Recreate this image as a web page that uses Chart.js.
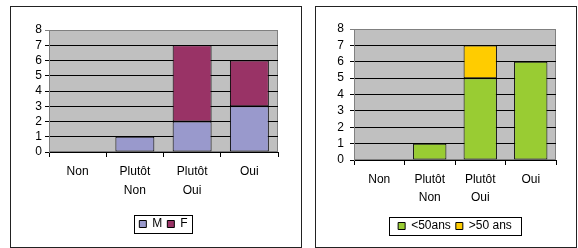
<!DOCTYPE html>
<html><head><meta charset="utf-8">
<script src="https://cdn.jsdelivr.net/npm/chart.js@4"></script>
<style>
body{margin:0;background:#fff;width:578px;height:248px;position:relative;overflow:hidden}
.box{position:absolute;border:1px solid #222;background:#fff}
canvas{display:block}
</style></head><body>
<div class="box" style="left:10px;top:6px;width:290px;height:240px"><canvas id="c1" width="290" height="240"></canvas></div>
<div class="box" style="left:315px;top:6px;width:260px;height:240px"><canvas id="c2" width="260" height="240"></canvas></div>
<script>
const categories = [["Non"], ["Plutôt", "Non"], ["Plutôt", "Oui"], ["Oui"]];
const sexLabels = ["M", "F"];
const valuesM = [0, 1, 2, 3];
const valuesF = [0, 0, 5, 3];
const ageLabels = ["<50ans", ">50 ans"];
const valuesUnder50 = [0, 1, 5, 6];
const valuesOver50 = [0, 0, 2, 0];
const yMin = 0, yMax = 8, yStep = 1;

Chart.defaults.font.family = '"Liberation Sans", Arial, sans-serif';
Chart.defaults.color = '#000';

const framePlugin = {
  id: 'frame',
  beforeDraw(chart) {
    const {ctx, chartArea: a} = chart;
    ctx.save();
    ctx.fillStyle = '#C0C0C0';
    ctx.fillRect(a.left, a.top, a.width, a.height);
    ctx.strokeStyle = '#808080';
    ctx.lineWidth = 1;
    ctx.strokeRect(a.left + 0.5, a.top + 0.5, a.width - 1, a.height - 1);
    ctx.restore();
  },
  afterDraw(chart, args, opts) {
    const hb = chart.legend.legendHitBoxes;
    if (!hb || !hb.length) return;
    let x0 = Infinity, y0 = Infinity, x1 = -Infinity, y1 = -Infinity;
    hb.forEach(h => { x0 = Math.min(x0, h.left); y0 = Math.min(y0, h.top); x1 = Math.max(x1, h.left + h.width); y1 = Math.max(y1, h.top + h.height); });
    const px = opts.padX || 5, py = 3;
    const ctx = chart.ctx;
    ctx.save();
    ctx.strokeStyle = '#000';
    ctx.lineWidth = 1;
    ctx.strokeRect(Math.round(x0 - px) + 0.5, Math.round(y0 - py) + 0.5, Math.round(x1 - x0 + 2 * px), Math.round(y1 - y0 + 2 * py));
    ctx.restore();
  }
};

function makeChart(id, names, dataA, dataB, colA, colB, o) {
  const ds = (label, data, col) => ({
    label, data, backgroundColor: col, borderColor: '#000',
    borderWidth: c => (c.raw === 0 ? 0 : 1), borderSkipped: false,
    barPercentage: o.bar, categoryPercentage: 1
  });
  return new Chart(document.getElementById(id), {
    type: 'bar',
    data: { labels: categories, datasets: [ds(names[0], dataA, colA), ds(names[1], dataB, colB)] },
    options: {
      responsive: false, animation: false, devicePixelRatio: 1,
      layout: { padding: { left: 0, right: o.right, top: o.top, bottom: o.bottom } },
      plugins: {
        frame: { padX: o.legPadX },
        legend: {
          position: 'bottom', fullSize: false,
          labels: {
            boxWidth: 7, boxHeight: 7, color: '#000', font: { size: 12 }, padding: 5,
            generateLabels: chart => Chart.defaults.plugins.legend.labels.generateLabels(chart)
              .map(l => Object.assign(l, { lineWidth: 1, strokeStyle: '#000' }))
          }
        },
        tooltip: { enabled: false }
      },
      scales: {
        x: {
          stacked: true,
          grid: { offset: true, drawOnChartArea: false, drawTicks: true, tickLength: 5, color: '#000' },
          border: { color: '#000' },
          ticks: { color: '#000', font: { size: 12, lineHeight: o.lh }, padding: o.xpad, maxRotation: 0, autoSkip: false },
          afterFit: s => { s.height = o.xh; }
        },
        y: {
          stacked: true, min: yMin, max: yMax,
          ticks: { stepSize: yStep, autoSkip: false, color: '#000', font: { size: 12 }, padding: o.ypad },
          grid: { color: c => (c.tick && c.tick.value === yMax ? '#808080' : '#000'), tickLength: 4 },
          border: { color: '#808080' },
          afterFit: s => { s.width = 38; }
        }
      }
    },
    plugins: [framePlugin]
  });
}

makeChart('c1', sexLabels, valuesM, valuesF, '#9999CC', '#993366',
  { bar: 0.68, right: 23, top: 23, bottom: 7, xh: 61, lh: 1.6, xpad: 5, ypad: 3, legPadX: 5 });
makeChart('c2', ageLabels, valuesUnder50, valuesOver50, '#99CC33', '#FFCC00',
  { bar: 0.66, right: 20, top: 22, bottom: 5, xh: 55, lh: 1.5, xpad: 6, ypad: 6, legPadX: 9 });
</script>
</body></html>
